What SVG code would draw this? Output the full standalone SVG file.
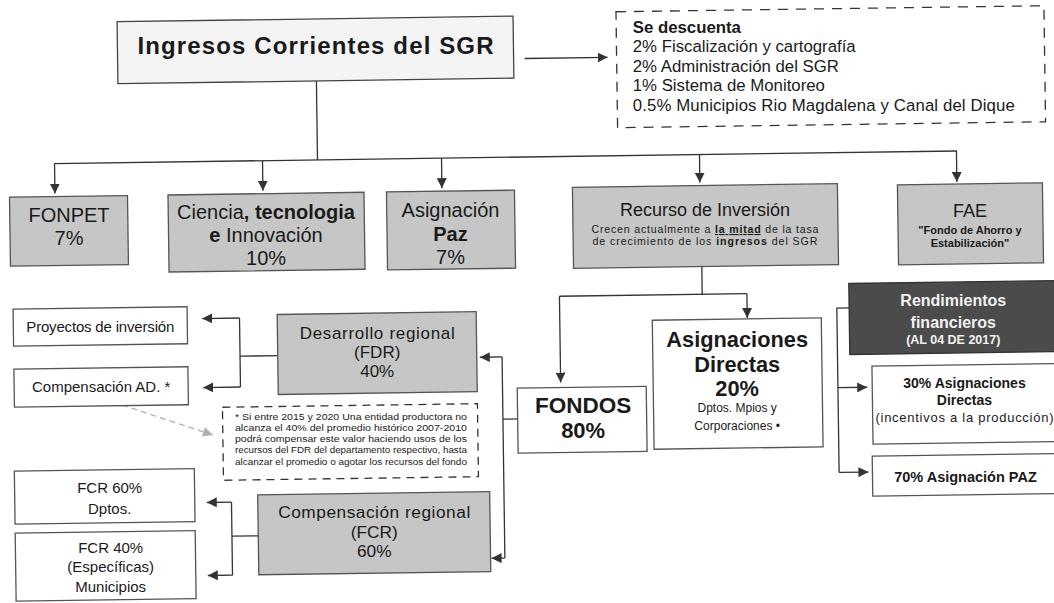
<svg xmlns="http://www.w3.org/2000/svg" width="1054" height="603" viewBox="0 0 1054 603">
<style>
text{font-family:"Liberation Sans",Arial,sans-serif;fill:#1a1a1a}
.g{fill:#c6c6c6;stroke:#555;stroke-width:1.3}
.w{fill:#fff;stroke:#555;stroke-width:1.3}
.ln{fill:none;stroke:#333;stroke-width:1.3}
.c{text-anchor:middle}
.b{font-weight:bold}
.wt{fill:#f2f2f2}
</style>
<defs>
<marker id="ah" viewBox="0 0 10 10" refX="10" refY="5" markerWidth="10" markerHeight="10" markerUnits="userSpaceOnUse" orient="auto"><path d="M0,0 L10,5 L0,10 z" fill="#333"/></marker>
<marker id="ahg" viewBox="0 0 10 10" refX="10" refY="5" markerWidth="10" markerHeight="10" markerUnits="userSpaceOnUse" orient="auto"><path d="M0,0 L10,5 L0,10 z" fill="#b0b0b0"/></marker>
</defs>
<rect width="1054" height="603" fill="#fff"/>
<g transform="rotate(-0.8 527 301)">
<g id="connectors">
<line class="ln" x1="528" y1="58.5" x2="611" y2="58.5" marker-end="url(#ah)"/>
<line class="ln" x1="319.5" y1="78" x2="319.5" y2="157"/>
<line class="ln" x1="56.5" y1="157" x2="959" y2="157"/>
<line class="ln" x1="56.5" y1="157" x2="56.5" y2="187" marker-end="url(#ah)"/>
<line class="ln" x1="264.5" y1="157" x2="264.5" y2="187" marker-end="url(#ah)"/>
<line class="ln" x1="443.5" y1="157" x2="443.5" y2="187" marker-end="url(#ah)"/>
<line class="ln" x1="701.5" y1="157" x2="701.5" y2="185" marker-end="url(#ah)"/>
<line class="ln" x1="958.5" y1="157" x2="958.5" y2="188" marker-end="url(#ah)"/>
<path class="ln" d="M702.3,269 V296.7 M559.5,296.7 H747"/>
<line class="ln" x1="559.5" y1="296.7" x2="559.5" y2="383" marker-end="url(#ah)"/>
<line class="ln" x1="747" y1="296.7" x2="747" y2="321" marker-end="url(#ah)"/>
<path class="ln" d="M277,352.2 H239.3 M239.3,314 V383"/>
<line class="ln" x1="239.3" y1="314" x2="202" y2="314" marker-end="url(#ah)"/>
<line class="ln" x1="239.3" y1="383" x2="202" y2="383" marker-end="url(#ah)"/>
<line x1="120.5" y1="399.3" x2="211" y2="430.6" stroke="#b0b0b0" stroke-width="1.3" stroke-dasharray="6 4" marker-end="url(#ahg)"/>
<path class="ln" d="M255,532 H228.7 M228.7,498 V571"/>
<line class="ln" x1="228.7" y1="498" x2="204" y2="498" marker-end="url(#ah)"/>
<line class="ln" x1="228.7" y1="571" x2="204" y2="571" marker-end="url(#ah)"/>
<path class="ln" d="M501.3,356.6 V557.7 M501.3,418.8 H516"/>
<line class="ln" x1="501.3" y1="356.6" x2="479" y2="356.6" marker-end="url(#ah)"/>
<line class="ln" x1="501.3" y1="557.7" x2="488" y2="557.7" marker-end="url(#ah)"/>
<path class="ln" d="M849,312.4 H836.7 V476.8"/>
<line class="ln" x1="836.7" y1="392" x2="866" y2="392" marker-end="url(#ah)"/>
<line class="ln" x1="836.7" y1="476.8" x2="866" y2="476.8" marker-end="url(#ah)"/>
</g>
<g id="title">
<rect x="121" y="16" width="396" height="62" fill="#f4f4f4" stroke="#444" stroke-width="1.3"/>
<g transform="rotate(0.8 319 47)"><text class="c b" x="319" y="51" font-size="24" textLength="356">Ingresos Corrientes del SGR</text></g>
</g>
<g id="descuenta">
<rect x="620" y="13" width="428" height="116" fill="#fff" stroke="#333" stroke-width="1.3" stroke-dasharray="10 8"/>
<g transform="rotate(0.8 834 71)">
<text class="b" x="636" y="37" font-size="16.8">Se descuenta</text>
<text x="636" y="56.5" font-size="16.8">2% Fiscalización y cartografía</text>
<text x="636" y="76" font-size="16.8">2% Administración del SGR</text>
<text x="636" y="95.5" font-size="16.8">1% Sistema de Monitoreo</text>
<text x="636" y="115" font-size="16.8" textLength="382">0.5% Municipios Rio Magdalena y Canal del Dique</text>
</g>
</g>
<g id="fonpet">
<rect class="g" x="11" y="190" width="118" height="69"/>
<g transform="rotate(0.8 70 225)">
<text class="c" x="70" y="216" font-size="20">FONPET</text>
<text class="c" x="70" y="239" font-size="20">7%</text>
</g>
</g>
<g id="ciencia">
<rect class="g" x="169.5" y="190" width="196" height="77"/>
<g transform="rotate(0.8 267.5 229)">
<text class="c" x="267" y="215" font-size="20">Ciencia<tspan class="b">, tecnologia</tspan></text>
<text class="c" x="267" y="238" font-size="20"><tspan class="b">e</tspan> Innovación</text>
<text class="c" x="267" y="261" font-size="20">10%</text>
</g>
</g>
<g id="asigpaz">
<rect class="g" x="388" y="190" width="128" height="78"/>
<g transform="rotate(0.8 452 229)">
<text class="c" x="451.5" y="216" font-size="20">Asignación</text>
<text class="c b" x="451.5" y="239.5" font-size="20">Paz</text>
<text class="c" x="451.5" y="263" font-size="20">7%</text>
</g>
</g>
<g id="recurso">
<rect class="g" x="574" y="188" width="265" height="81"/>
<g transform="rotate(0.8 706 228)">
<text class="c" x="706" y="218" font-size="18">Recurso de Inversión</text>
<text class="c" x="706" y="235.5" font-size="10.6" fill="#3a3a3a" textLength="227">Crecen actualmente a <tspan class="b" text-decoration="underline">la mitad</tspan> de la tasa</text>
<text class="c" x="706" y="247.5" font-size="10.6" textLength="225">de crecimiento de los <tspan class="b">ingresos</tspan> del SGR</text>
</g>
</g>
<g id="fae">
<rect class="g" x="899" y="190" width="145" height="80"/>
<g transform="rotate(0.8 971 230)">
<text class="c" x="971" y="223" font-size="18">FAE</text>
<text class="c b" x="971" y="240" font-size="11">"Fondo de Ahorro y</text>
<text class="c b" x="971" y="253" font-size="11">Estabilización"</text>
</g>
</g>
<g id="fdr">
<rect class="g" x="277" y="311" width="199" height="80"/>
<g transform="rotate(0.8 376.5 351)">
<text class="c" x="376.5" y="337" font-size="17" textLength="155">Desarrollo regional</text>
<text class="c" x="376.5" y="356" font-size="17">(FDR)</text>
<text class="c" x="376.5" y="375" font-size="17">40%</text>
</g>
</g>
<g id="proyectos">
<rect class="w" x="13" y="302" width="174" height="37"/>
<g transform="rotate(0.8 100 320)"><text class="c" x="100" y="326" font-size="15" textLength="148">Proyectos de inversión</text></g>
</g>
<g id="compensacion-ad">
<rect class="w" x="13" y="362" width="174" height="38"/>
<g transform="rotate(0.8 100 381)"><text class="c" x="100" y="386" font-size="15">Compensación AD. *</text></g>
</g>
<g id="nota">
<rect x="221" y="403" width="255" height="73" fill="#fff" stroke="#333" stroke-width="1.3" stroke-dasharray="8 6"/>
<g transform="rotate(0.8 348.5 439.5)">
<text x="233" y="418" font-size="9.6" fill="#000" textLength="232" lengthAdjust="spacingAndGlyphs">* Si entre 2015 y 2020  Una entidad productora no</text>
<text x="233" y="429" font-size="9.6" fill="#000" textLength="232" lengthAdjust="spacingAndGlyphs">alcanza el 40% del promedio histórico 2007-2010</text>
<text x="233" y="440" font-size="9.6" fill="#000" textLength="232" lengthAdjust="spacingAndGlyphs">podrá compensar este valor haciendo usos de los</text>
<text x="233" y="451" font-size="9.6" fill="#000" textLength="232" lengthAdjust="spacingAndGlyphs">recursos del FDR del departamento respectivo, hasta</text>
<text x="233" y="462.5" font-size="9.6" fill="#000" textLength="232" lengthAdjust="spacingAndGlyphs">alcanzar el promedio o agotar los recursos del fondo</text>
</g>
</g>
<g id="fcr">
<rect class="g" x="255" y="491" width="232" height="80"/>
<g transform="rotate(0.8 371 531)">
<text class="c" x="371" y="516" font-size="17.3" textLength="192">Compensación regional</text>
<text class="c" x="371" y="535.5" font-size="17.3">(FCR)</text>
<text class="c" x="371" y="555" font-size="17.3">60%</text>
</g>
</g>
<g id="fcr60">
<rect class="w" x="12" y="464" width="180" height="53"/>
<g transform="rotate(0.8 102 490)">
<text class="c" x="107" y="487" font-size="15">FCR 60%</text>
<text class="c" x="107" y="508" font-size="15">Dptos.</text>
</g>
</g>
<g id="fcr40">
<rect class="w" x="12" y="526" width="180" height="68"/>
<g transform="rotate(0.8 102 560)">
<text class="c" x="107" y="547" font-size="15">FCR 40%</text>
<text class="c" x="107" y="566" font-size="15">(Específicas)</text>
<text class="c" x="107" y="586" font-size="15">Municipios</text>
</g>
</g>
<g id="fondos">
<rect class="w" x="516" y="388" width="129" height="65"/>
<g transform="rotate(0.8 580.5 420)">
<text class="c b" x="581.5" y="414" font-size="22.5">FONDOS</text>
<text class="c b" x="581.5" y="439" font-size="22">80%</text>
</g>
</g>
<g id="asig-directas">
<rect class="w" x="652" y="322" width="169" height="129"/>
<g transform="rotate(0.8 736.5 386)">
<text class="c b" x="736" y="350" font-size="21.8">Asignaciones</text>
<text class="c b" x="736" y="374.5" font-size="21.8">Directas</text>
<text class="c b" x="736" y="399" font-size="21.8">20%</text>
<text class="c" x="736" y="415" font-size="12">Dptos. Mpios y</text>
<text class="c" x="736" y="433" font-size="12">Corporaciones  •</text>
</g>
</g>
<g id="rendimientos">
<rect x="849" y="288" width="215" height="71" fill="#4b4b4b" stroke="#333" stroke-width="1.3"/>
<g transform="rotate(0.8 953 323)">
<text class="c b wt" x="953" y="312" font-size="16">Rendimientos</text>
<text class="c b wt" x="953" y="334" font-size="16">financieros</text>
<text class="c b wt" x="953" y="350" font-size="12.5">(AL 04 DE 2017)</text>
</g>
</g>
<g id="asig30">
<rect class="w" x="871" y="371" width="190" height="78"/>
<g transform="rotate(0.8 963 410)">
<text class="c b" x="963" y="394" font-size="14">30% Asignaciones</text>
<text class="c b" x="963" y="411" font-size="14">Directas</text>
<text class="c" x="963" y="428" font-size="13" textLength="178">(incentivos a la producción)</text>
</g>
</g>
<g id="asig70">
<rect class="w" x="870" y="461" width="190" height="40"/>
<g transform="rotate(0.8 963 481)"><text class="c b" x="963" y="488" font-size="14.5">70% Asignación PAZ</text></g>
</g>
</g>
</svg>
